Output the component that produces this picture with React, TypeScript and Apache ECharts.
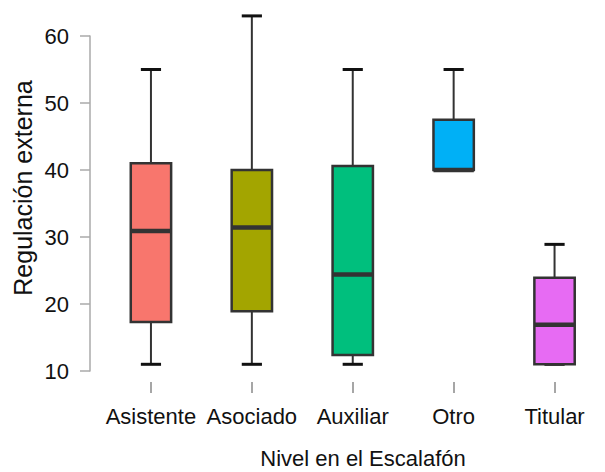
import React, { useEffect, useRef } from "react";
import * as echarts from "echarts";

const categories = ["Asistente", "Asociado", "Auxiliar", "Otro", "Titular"];
const whiskerLow = [11, 11, 11, 40, 11];
const q1 = [17.3, 18.9, 12.4, 40, 11];
const median = [30.9, 31.4, 24.4, 40, 16.9];
const q3 = [41, 40, 40.6, 47.5, 23.9];
const whiskerHigh = [55, 63, 55, 55, 28.9];
const boxColors = ["#F8766D", "#A3A500", "#00BF7D", "#00B0F6", "#E76BF3"];
const yMin = 10;
const yMax = 60;
const yStep = 10;
const xTitle = "Nivel en el Escalafón";
const yTitle = "Regulación externa";

const FONT = "'Liberation Sans', Arial, sans-serif";

export default function App() {
  const ref = useRef<HTMLDivElement>(null);
  useEffect(() => {
    if (!ref.current) return;
    const chart = echarts.init(ref.current, undefined, { renderer: "svg" });
    const data = categories.map((c, i) => [i, whiskerLow[i], q1[i], median[i], q3[i], whiskerHigh[i]]);
    const option: any = {
      animation: false,
      backgroundColor: "#ffffff",
      grid: { left: 100.5, top: 36, width: 525, height: 335 },
      xAxis: {
        type: "category",
        data: categories,
        boundaryGap: true,
        offset: 11,
        axisLine: { show: false },
        axisTick: { show: true, alignWithLabel: true, interval: 0, length: 11, lineStyle: { color: "#888", width: 1.5 } },
        axisLabel: { interval: 0, margin: 23, color: "#111", fontSize: 22, fontFamily: FONT },
        splitLine: { show: false },
      },
      yAxis: {
        type: "value",
        min: yMin,
        max: yMax,
        interval: yStep,
        offset: 10.5,
        axisLine: { show: true, lineStyle: { color: "#aaa", width: 1.5 } },
        axisTick: { show: true, length: 10, lineStyle: { color: "#aaa", width: 1.5 } },
        axisLabel: { margin: 21, color: "#111", fontSize: 22, fontFamily: FONT },
        splitLine: { show: false },
      },
      graphic: [
        {
          type: "text",
          x: 363,
          y: 458,
          style: {
            text: xTitle,
            fontSize: 22,
            fontFamily: FONT,
            fill: "#111",
            align: "center",
            verticalAlign: "middle",
          },
        },
        {
          type: "text",
          x: 23,
          y: 188,
          rotation: Math.PI / 2,
          style: {
            text: yTitle,
            fontSize: 25,
            fontFamily: FONT,
            fill: "#111",
            align: "center",
            verticalAlign: "middle",
          },
        },
      ],
      series: [
        {
          type: "custom",
          data,
          encode: { x: 0, y: [1, 2, 3, 4, 5] },
          renderItem: (params: any, api: any) => {
            const idx = api.value(0);
            const band = api.size([1, 0])[0];
            const bw = band * 0.4;
            const cw = bw * 0.5;
            const pLow = api.coord([idx, api.value(1)]);
            const pQ1 = api.coord([idx, api.value(2)]);
            const pMed = api.coord([idx, api.value(3)]);
            const pQ3 = api.coord([idx, api.value(4)]);
            const pHigh = api.coord([idx, api.value(5)]);
            const cx = pMed[0];
            const dark = "#333333";
            return {
              type: "group",
              children: [
                { type: "line", shape: { x1: cx, y1: pHigh[1], x2: cx, y2: pQ3[1] }, style: { stroke: dark, lineWidth: 2 } },
                { type: "line", shape: { x1: cx, y1: pQ1[1], x2: cx, y2: pLow[1] }, style: { stroke: dark, lineWidth: 2 } },
                { type: "line", shape: { x1: cx - cw / 2, y1: pHigh[1], x2: cx + cw / 2, y2: pHigh[1] }, style: { stroke: "#111", lineWidth: 3 } },
                { type: "line", shape: { x1: cx - cw / 2, y1: pLow[1], x2: cx + cw / 2, y2: pLow[1] }, style: { stroke: "#111", lineWidth: 3 } },
                {
                  type: "rect",
                  shape: { x: cx - bw / 2, y: pQ3[1], width: bw, height: pQ1[1] - pQ3[1] },
                  style: { fill: boxColors[idx], stroke: dark, lineWidth: 2.5 },
                },
                { type: "line", shape: { x1: cx - bw / 2, y1: pMed[1], x2: cx + bw / 2, y2: pMed[1] }, style: { stroke: dark, lineWidth: 4.5 } },
              ],
            };
          },
        },
      ],
    };
    chart.setOption(option);
    return () => chart.dispose();
  }, []);
  return <div ref={ref} style={{ position: "absolute", left: 0, top: 0, width: 605, height: 472 }} />;
}
